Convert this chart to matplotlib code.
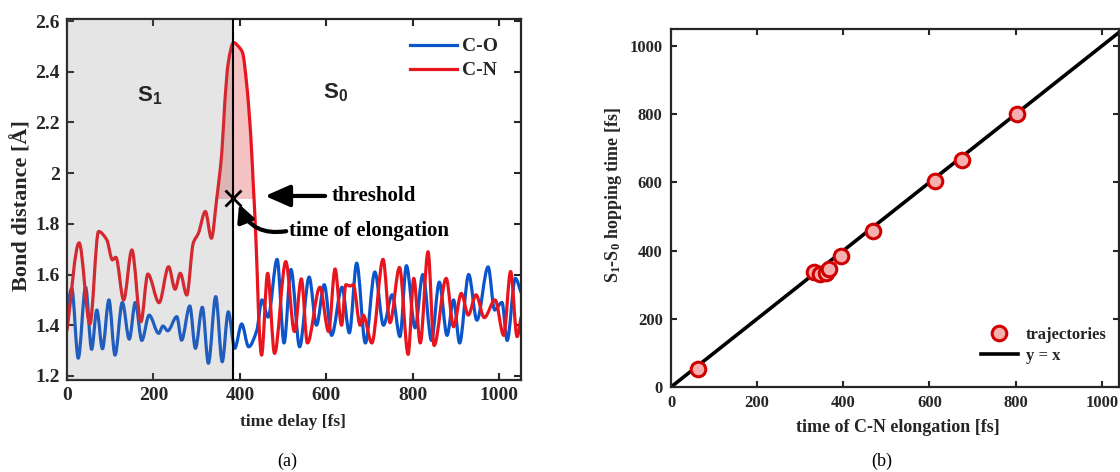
import matplotlib
matplotlib.use("Agg")
import matplotlib.pyplot as plt
from matplotlib.path import Path
from matplotlib.patches import PathPatch
from matplotlib.lines import Line2D
import numpy as np

plt.rcParams['font.family'] = ['Liberation Serif', 'DejaVu Serif']
plt.rcParams['font.weight'] = 'bold'
plt.rcParams['mathtext.fontset'] = 'custom'
plt.rcParams['mathtext.rm'] = 'Liberation Serif:bold'
plt.rcParams['mathtext.it'] = 'Liberation Serif:bold'
plt.rcParams['mathtext.bf'] = 'Liberation Serif:bold'
plt.rcParams['mathtext.sf'] = 'Liberation Sans:bold'

# ---------------- data (a) ----------------
t_co = [0, 11, 26, 43, 57, 69, 82, 97, 111, 128, 144, 158, 173, 190, 212, 222, 233,
        254, 265, 284, 297, 313, 327, 344, 359, 373, 388, 404, 420, 439, 451, 465,
        486, 502, 518, 538, 560, 577, 595, 612, 636, 653, 670, 690, 712, 732, 752,
        770, 785, 805, 823, 843, 861, 879, 894, 908, 929, 948, 974, 989, 1006, 1018,
        1037, 1050]
co = [1.46, 1.545, 1.27, 1.55, 1.305, 1.46, 1.307, 1.50, 1.282, 1.49, 1.345, 1.49,
      1.34, 1.44, 1.368, 1.397, 1.378, 1.434, 1.341, 1.476, 1.309, 1.471, 1.25,
      1.513, 1.256, 1.453, 1.309, 1.405, 1.315, 1.38, 1.50, 1.432, 1.66, 1.33, 1.62,
      1.315, 1.59, 1.40, 1.56, 1.36, 1.55, 1.37, 1.645, 1.33, 1.61, 1.40, 1.52,
      1.355, 1.635, 1.39, 1.60, 1.34, 1.57, 1.36, 1.50, 1.33, 1.60, 1.42, 1.63,
      1.46, 1.49, 1.34, 1.585, 1.53]

t_cn = [0, 28, 53, 73, 92, 105, 113, 131, 150, 171, 187, 213, 235, 250, 262, 277,
        292, 304, 320, 334, 346, 358, 365, 373, 385, 399, 406, 416, 425, 431, 435,
        440, 445, 450, 464, 480, 506, 526, 542, 556, 585, 605, 620, 635, 645, 655,
        662, 678, 685, 705, 731, 747, 769, 789, 802, 817, 835, 849, 877, 894, 912,
        928, 946, 965, 990, 1010, 1026, 1041, 1050]
cn = [1.38, 1.725, 1.405, 1.77, 1.737, 1.658, 1.668, 1.50, 1.697, 1.414, 1.602,
      1.489, 1.631, 1.542, 1.605, 1.519, 1.724, 1.763, 1.849, 1.743, 1.895, 2.08,
      2.28, 2.436, 2.515, 2.495, 2.475, 2.343, 2.146, 1.948, 1.816, 1.60, 1.37,
      1.282, 1.605, 1.289, 1.651, 1.375, 1.583, 1.33, 1.55, 1.375, 1.622, 1.40,
      1.56, 1.555, 1.56, 1.40, 1.44, 1.33, 1.66, 1.41, 1.628, 1.285, 1.585, 1.33,
      1.69, 1.32, 1.585, 1.394, 1.526, 1.44, 1.52, 1.43, 1.50, 1.36, 1.612, 1.355,
      1.43]

hop_time = 384
threshold = 1.9

# ---------------- data (b) ----------------
elong_time = [63, 333, 346, 359, 366, 394, 468, 613, 676, 804]
hopping_time = [52, 338, 331, 333, 346, 385, 457, 604, 665, 802]

BLUE = '#0a55cc'
RED = '#e8141e'
TXT = '#262626'


def smooth_path(xs, ys):
    """Bezier path through the given points (monotone tangents) for a smooth stroke."""
    x = np.asarray(xs, float)
    y = np.asarray(ys, float)
    h = np.diff(x)
    d = np.diff(y) / h
    m = np.zeros_like(y)
    m[0], m[-1] = d[0], d[-1]
    for i in range(1, len(y) - 1):
        if d[i - 1] * d[i] > 0:
            m[i] = 2.0 / (1.0 / d[i - 1] + 1.0 / d[i])
    verts = [(x[0], y[0])]
    codes = [Path.MOVETO]
    for i in range(len(x) - 1):
        verts += [(x[i] + h[i] / 3, y[i] + m[i] * h[i] / 3),
                  (x[i + 1] - h[i] / 3, y[i + 1] - m[i + 1] * h[i] / 3),
                  (x[i + 1], y[i + 1])]
        codes += [Path.CURVE4] * 3
    return Path(verts, codes)


fig = plt.figure(figsize=(11.2, 4.72), dpi=100)
W, H = 1120, 472


def ax_rect(x0, y0, x1, y1):
    return [x0 / W, 1 - y1 / H, (x1 - x0) / W, (y1 - y0) / H]


# ---------------- panel (a) ----------------
ax = fig.add_axes(ax_rect(67, 19, 521, 380))
t_cn_a = np.array(t_cn, float)
cn_a = np.array(cn, float)
ax.fill_between(t_cn_a, cn_a, threshold, where=cn_a > threshold, interpolate=True,
                color='#f5c3c3', lw=0, zorder=1)
ax.add_patch(PathPatch(smooth_path(t_co, co), fill=False, edgecolor=BLUE, lw=2.3,
                       zorder=2, joinstyle='round', capstyle='round'))
ax.add_patch(PathPatch(smooth_path(t_cn, cn), fill=False, edgecolor=RED, lw=2.3,
                       zorder=2, joinstyle='round', capstyle='round'))
ax.axvspan(0, hop_time, color='0.5', alpha=0.2, lw=0, zorder=3)
ax.axvline(hop_time, color='k', lw=1.5, zorder=4)
ax.plot([hop_time], [threshold], marker='x', color='k', ms=11, mew=2, zorder=5)

ax.set_xlim(0, 1050)
ax.set_ylim(1.184, 2.608)
ax.set_xticks(np.arange(0, 1001, 200))
ax.set_yticks(np.arange(1.2, 2.61, 0.2))
ax.set_yticklabels(['%g' % round(v, 1) for v in np.arange(1.2, 2.61, 0.2)])
ax.tick_params(direction='in', top=True, right=True, length=5, width=1.5,
               labelsize=14, colors=TXT, pad=5)
for lab in ax.get_xticklabels() + ax.get_yticklabels():
    lab.set_fontweight('bold')
for s in ax.spines.values():
    s.set_linewidth(1.6)
    s.set_color(TXT)

ax.text(192, 2.306, r'$\mathsf{S_1}$', fontsize=16, color=TXT, ha='center', va='center', zorder=6)
ax.text(620, 2.318, r'$\mathsf{S_0}$', fontsize=16, color=TXT, ha='center', va='center', zorder=6)

handles = [Line2D([], [], color=BLUE, lw=2.3), Line2D([], [], color=RED, lw=2.3)]
leg = ax.legend(handles, ['C-O', 'C-N'], loc='upper left', bbox_to_anchor=(0.7555, 0.948),
                frameon=False, fontsize=14, handlelength=2.4, handletextpad=0.25,
                labelspacing=0.33, borderpad=0, borderaxespad=0)
for txt in leg.get_texts():
    txt.set_color(TXT)
    txt.set_fontweight('bold')

ax.annotate('', xy=(458, 1.91), xytext=(597, 1.91),
            arrowprops=dict(arrowstyle='-|>,head_length=0.75,head_width=0.33',
                            lw=3, color='k', mutation_scale=20, shrinkA=0, shrinkB=0),
            zorder=6)
ax.text(613, 1.909, 'threshold', fontsize=15, fontweight='bold', ha='left', va='center',
        color='k', zorder=6)
ax.annotate('', xy=(398, 1.878), xytext=(507, 1.771),
            arrowprops=dict(arrowstyle='-|>,head_length=0.6,head_width=0.3',
                            lw=3, color='k', mutation_scale=17, shrinkA=0, shrinkB=0,
                            connectionstyle='arc3,rad=-0.4'),
            zorder=6)
ax.text(514, 1.773, 'time of elongation', fontsize=15, fontweight='bold', ha='left',
        va='center', color='k', zorder=6)

fig.text(293 / W, 1 - 422 / H, 'time delay [fs]', fontsize=12.5, fontweight='bold',
         ha='center', va='center', color=TXT)
fig.text(22 / W, 1 - 206 / H, 'Bond distance [Å]', fontsize=16, fontweight='bold',
         ha='center', va='center', rotation=90, color=TXT)
fig.text(287 / W, 1 - 461 / H, '(a)', fontsize=13, fontweight='normal', ha='center',
         va='center', color='k')

# ---------------- panel (b) ----------------
bx = fig.add_axes(ax_rect(671, 29, 1119, 387))
bx.plot([0, 1040], [0, 1040], color='k', lw=2.6, zorder=2, label='y = x')
bx.plot(elong_time, hopping_time, ls='none', marker='o', ms=10.5, mfc='#f6aeae',
        mec='#d00000', mew=2.2, zorder=3, label='trajectories')
bx.set_xlim(0, 1040)
bx.set_ylim(0, 1050)
bx.set_xticks(np.arange(0, 1001, 200))
bx.set_yticks(np.arange(0, 1001, 200))
bx.tick_params(direction='in', top=True, right=True, length=4, width=1.5,
               labelsize=12, colors=TXT, pad=6)
for lab in bx.get_xticklabels() + bx.get_yticklabels():
    lab.set_fontweight('bold')
for s in bx.spines.values():
    s.set_linewidth(1.6)
    s.set_color(TXT)

h, l = bx.get_legend_handles_labels()
leg2 = bx.legend([h[1], h[0]], [l[1], l[0]], loc='upper left',
                 bbox_to_anchor=(0.692, 0.168), frameon=False, fontsize=12,
                 handlelength=2.2, handletextpad=0.5, labelspacing=0.3,
                 borderpad=0, borderaxespad=0)
for txt in leg2.get_texts():
    txt.set_color(TXT)
    txt.set_fontweight('bold')

fig.text(898 / W, 1 - 427 / H, 'time of C-N elongation [fs]', fontsize=13,
         fontweight='bold', ha='center', va='center', color=TXT)
fig.text(613 / W, 1 - 195 / H, r'S$_1$-S$_0$ hopping time [fs]', fontsize=13,
         fontweight='bold', ha='center', va='center', rotation=90, color=TXT)
fig.text(882 / W, 1 - 461 / H, '(b)', fontsize=13, fontweight='normal', ha='center',
         va='center', color='k')

fig.savefig('out.png', dpi=100)
